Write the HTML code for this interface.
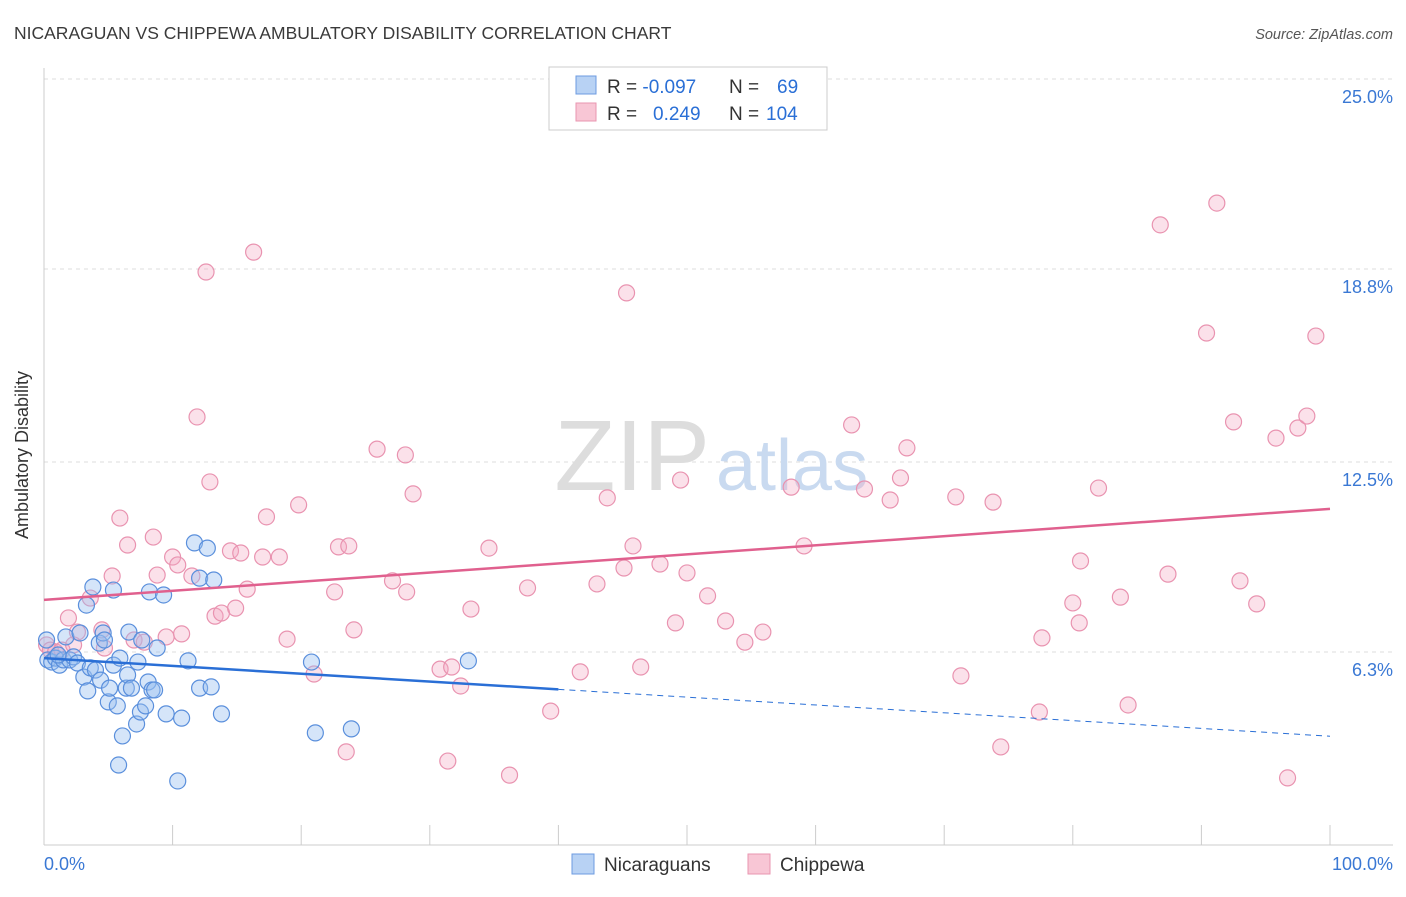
<!DOCTYPE html>
<html><head><meta charset="utf-8"><style>
body{margin:0;background:#fff;font-family:"Liberation Sans",sans-serif;}
svg text{font-family:"Liberation Sans",sans-serif;}
</style></head><body>
<svg width="1406" height="892" xmlns="http://www.w3.org/2000/svg">
<text x="14" y="39" font-size="17.5" fill="#3a3a3a">NICARAGUAN VS CHIPPEWA AMBULATORY DISABILITY CORRELATION CHART</text>
<text x="1393" y="39" font-size="14.5" fill="#555" font-style="italic" text-anchor="end">Source: ZipAtlas.com</text>
<g id="grid"></g>
<g id="axes"></g>
<text x="710" y="490" font-size="100" fill="#ddd" text-anchor="end" font-family="Liberation Serif">ZIP</text>
<text x="716" y="490" font-size="72" fill="#c9daf0">atlas</text>
<g id="pts"></g>
<g id="lines"></g>
<text x="28" y="455" font-size="18" fill="#333" text-anchor="middle" transform="rotate(-90 28 455)">Ambulatory Disability</text>
<g>
<rect x="549" y="67" width="278" height="63" fill="#fff" stroke="#ccc"/>
<rect x="576" y="76" width="20" height="18" fill="#b8d2f4" stroke="#6d9be0"/>
<rect x="576" y="103" width="20" height="18" fill="#f8c6d5" stroke="#e996b0"/>
<text x="607" y="93" font-size="19" fill="#333">R = <tspan fill="#2a6fd6">-0.097</tspan><tspan x="729">N = </tspan><tspan x="777" fill="#2a6fd6">69</tspan></text>
<text x="607" y="120" font-size="19" fill="#333">R = <tspan x="653" fill="#2a6fd6">0.249</tspan><tspan x="729">N = </tspan><tspan x="766" fill="#2a6fd6">104</tspan></text>
</g>
<g>
<rect x="572" y="854" width="22" height="20" fill="#b8d2f4" stroke="#6d9be0"/>
<text x="604" y="871" font-size="19" fill="#333">Nicaraguans</text>
<rect x="748" y="854" width="22" height="20" fill="#f8c6d5" stroke="#e996b0"/>
<text x="780" y="871" font-size="19" fill="#333">Chippewa</text>
</g>
</svg>
<script>
const yTicks=[25.0,18.8,12.5,6.3];
const yTickLabels=["25.0%","18.8%","12.5%","6.3%"];
const xTickLabels=["0.0%","100.0%"];
const blueX=[0.3,0.6,0.9,1.2,1.5,1.7,2.0,2.3,2.6,2.8,3.1,3.3,3.4,3.6,3.8,4.0,4.3,4.4,4.6,4.7,5.0,5.1,5.4,5.4,5.7,5.8,5.9,6.1,6.4,6.5,6.6,6.8,7.2,7.3,7.5,7.6,7.9,8.1,8.2,8.4,8.6,8.8,9.3,9.5,10.4,10.7,11.2,11.7,12.1,12.1,12.7,13.0,13.2,13.8,20.8,21.1,23.9,33.0,0.2,1.1];
const blueY=[6.04,5.97,6.10,5.87,6.04,6.79,6.04,6.14,5.94,6.92,5.48,7.83,5.03,5.78,8.42,5.71,6.59,5.38,6.92,6.69,4.67,5.12,5.87,8.32,4.54,2.61,6.10,3.56,5.12,5.55,6.95,5.12,3.95,5.97,4.34,6.69,4.54,5.32,8.26,5.06,5.06,6.43,8.16,4.28,2.09,4.14,6.01,9.86,8.71,5.12,9.69,5.16,8.65,4.28,5.97,3.66,3.79,6.01,6.69,6.20];
const pinkX=[0.2,0.5,0.9,1.4,1.9,2.3,2.6,3.6,4.5,4.7,5.3,5.9,6.5,7.0,7.8,8.5,8.8,9.5,10.0,10.4,10.7,11.5,11.9,12.6,12.9,13.3,13.8,14.5,14.9,15.3,15.8,16.3,17.0,17.3,18.3,18.9,19.8,21.0,22.6,22.9,23.5,23.7,24.1,25.9,27.1,28.1,28.2,28.7,30.8,31.4,31.7,32.4,33.2,34.6,36.2,37.6,39.4,41.7,43.0,43.8,45.1,45.3,45.8,46.4,47.9,49.1,49.5,50.0,51.6,53.0,54.5,55.9,58.1,59.1,62.8,63.8,65.8,66.6,67.1,70.9,71.3,73.8,74.4,77.4,77.6,80.0,80.5,80.6,82.0,83.7,84.3,86.8,87.4,90.4,91.2,92.5,93.0,94.3,95.8,96.7,97.5,98.2,98.9];
const pinkY=[6.53,6.36,6.30,6.36,7.41,6.53,6.95,8.06,7.02,6.43,8.78,10.67,9.79,6.69,6.62,10.05,8.81,6.79,9.40,9.14,6.89,8.78,13.97,18.70,11.85,7.47,7.57,9.60,7.73,9.53,8.35,19.35,9.40,10.71,9.40,6.72,11.10,5.58,8.26,9.73,3.04,9.76,7.02,12.92,8.62,12.73,8.26,11.46,5.74,2.74,5.81,5.19,7.70,9.69,2.28,8.39,4.37,5.65,8.52,11.33,9.04,18.02,9.76,5.81,9.17,7.25,11.91,8.88,8.13,7.31,6.62,6.95,11.68,9.76,13.71,11.62,11.26,11.98,12.96,11.36,5.52,11.19,3.20,4.34,6.76,7.90,7.25,9.27,11.65,8.09,4.57,20.24,8.84,16.71,20.95,13.81,8.62,7.87,13.28,2.19,13.61,14.00,16.61];
const blueTrend=[6.1,-0.0255];   // intercept, slope per %
const pinkTrend=[8.0,0.0297];
const NS="http://www.w3.org/2000/svg";
const xs=v=>44+v*12.86, ys=v=>79+(25-v)*30.64;
function mk(tag,attrs,parent){const e=document.createElementNS(NS,tag);for(const k in attrs)e.setAttribute(k,attrs[k]);parent.appendChild(e);return e;}
const grid=document.getElementById('grid'),axes=document.getElementById('axes');
yTicks.forEach((t,i)=>{
  const l=mk('line',{x1:44,x2:1393,y1:ys(t),y2:ys(t),stroke:'#ddd','stroke-dasharray':'4,4'},grid);
  
  
  const tx=mk('text',{x:1393,y:ys(t)+24,'font-size':18,fill:'#3a78d4','text-anchor':'end'},axes);
  tx.textContent=yTickLabels[i];
  
  
});
const ax=mk('line',{x1:44,x2:1393,y1:845,y2:845,stroke:'#ccc'},axes);


const ay=mk('line',{x1:44,x2:44,y1:68,y2:845,stroke:'#ccc'},axes);


for(let i=0;i<=10;i++){const t=mk('line',{x1:xs(i*10),x2:xs(i*10),y1:825,y2:845,stroke:'#ccc'},axes);
  
  }
[[0,'start',44],[100,'end',1393]].forEach((a,i)=>{const t=mk('text',{x:a[2],y:870,'font-size':18,fill:'#3a78d4','text-anchor':a[1]},axes);t.textContent=xTickLabels[i];
  
  });
const pts=document.getElementById('pts');
pinkX.forEach((x,i)=>{const c=mk('circle',{cx:xs(x),cy:ys(pinkY[i]),r:8,fill:'rgba(244,170,196,0.35)',stroke:'#e993b0','stroke-width':1.2},pts);
  
  });
blueX.forEach((x,i)=>{const c=mk('circle',{cx:xs(x),cy:ys(blueY[i]),r:8,fill:'rgba(150,190,240,0.4)',stroke:'#5a8fdc','stroke-width':1.2},pts);
  
  });
const lines=document.getElementById('lines');
const f=(t,x)=>t[0]+t[1]*x;
const pl=mk('line',{x1:xs(0),y1:ys(f(pinkTrend,0)),x2:xs(100),y2:ys(f(pinkTrend,100)),stroke:'#e0608e','stroke-width':2.5},lines);


const bl=mk('line',{x1:xs(0),y1:ys(f(blueTrend,0)),x2:xs(40),y2:ys(f(blueTrend,40)),stroke:'#2a6fd6','stroke-width':2.5},lines);


const bd=mk('line',{x1:xs(40),y1:ys(f(blueTrend,40)),x2:xs(100),y2:ys(f(blueTrend,100)),stroke:'#2a6fd6','stroke-width':1,'stroke-dasharray':'6,5'},lines);


</script>
</body></html>
